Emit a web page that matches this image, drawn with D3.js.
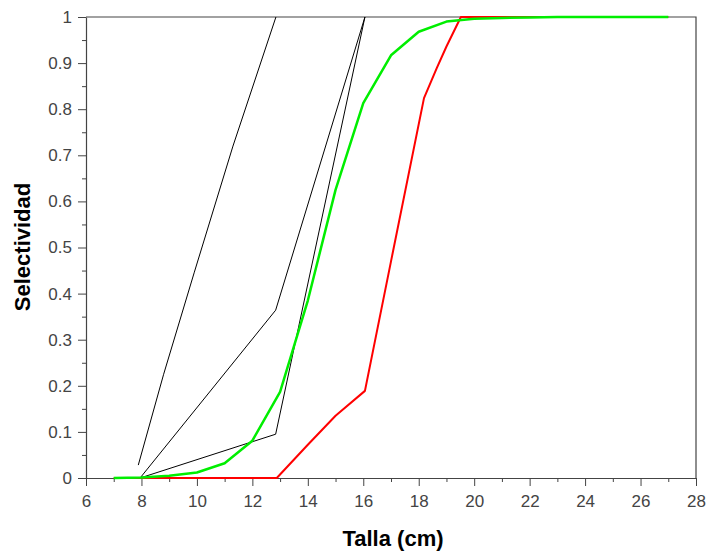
<!DOCTYPE html>
<html>
<head>
<meta charset="utf-8">
<script src="https://cdn.jsdelivr.net/npm/d3@7"></script>
<style>
  html, body { margin: 0; padding: 0; background: #fff; }
  svg { display: block; }
  .tick text { font-family: "Liberation Sans", Arial, sans-serif; fill: #444; }
</style>
</head>
<body>
<svg id="chart" width="708" height="552"></svg>
<script>
// Selectivity curves by length (Talla, cm)
const tallaTicks = [6, 8, 10, 12, 14, 16, 18, 20, 22, 24, 26, 28];
const selTicks = [0, 0.1, 0.2, 0.3, 0.4, 0.5, 0.6, 0.7, 0.8, 0.9, 1];

// thin black reference curves
const blackA_x = [7.886, 8.8, 9.9, 11.3, 12.85];
const blackA_y = [0.028, 0.225, 0.445, 0.72, 1.0];
const blackB_x = [7.95, 12.84, 16.06];
const blackB_y = [0.0, 0.364, 1.0];
const blackC_x = [7.95, 12.84, 16.06];
const blackC_y = [0.0, 0.095, 1.0];

// red curve
const red_x = [7, 8, 9, 10, 11, 12, 12.88, 14, 15, 16.06, 17, 18.19, 18.65, 19, 19.52, 20, 21, 22, 23, 24, 25, 26, 27];
const red_y = [0, 0, 0, 0, 0, 0, 0, 0.072, 0.135, 0.189, 0.47, 0.824, 0.889, 0.936, 1, 1, 1, 1, 1, 1, 1, 1, 1];

// green curve
const green_x = [7, 8, 9, 10, 11, 12, 13, 14, 15, 16, 17, 18, 19, 20, 21, 22, 23, 24, 25, 26, 27];
const green_y = [0, 0.001, 0.005, 0.012, 0.032, 0.081, 0.187, 0.385, 0.625, 0.813, 0.917, 0.968, 0.99, 0.996, 0.998, 0.999, 1, 1, 1, 1, 1];

const svg = d3.select("#chart");
const mLeft = 86, mRight = 696, mTop = 17, mBottom = 478;

const x = d3.scaleLinear().domain([6, 28]).range([mLeft, mRight]);
const y = d3.scaleLinear().domain([0, 1]).range([mBottom, mTop]);

// frame (top and right edges)
svg.append("path")
  .attr("d", `M${mLeft},${mTop}H${mRight}V${mBottom}`)
  .attr("fill", "none").attr("stroke", "#444").attr("stroke-width", 1.2);

// minor ticks
const xMinor = d3.range(7, 28, 2);
const yMinor = d3.range(0.05, 1, 0.1);

const xAxisG = svg.append("g").attr("transform", `translate(0,${mBottom})`);
xAxisG.append("g")
  .call(d3.axisBottom(x).tickValues(xMinor).tickSize(4).tickFormat(""))
  .call(g => g.select(".domain").remove())
  .call(g => g.selectAll("line").attr("stroke", "#444"));
xAxisG.append("g")
  .call(d3.axisBottom(x).tickValues(tallaTicks).tickSize(8).tickSizeOuter(0).tickPadding(9).tickFormat(d3.format("d")))
  .call(g => g.select(".domain").attr("stroke", "#444").attr("stroke-width", 1.2))
  .call(g => g.selectAll("line").attr("stroke", "#444"))
  .call(g => g.selectAll("text").style("font-size", "17px"));

const yAxisG = svg.append("g").attr("transform", `translate(${mLeft},0)`);
yAxisG.append("g")
  .call(d3.axisLeft(y).tickValues(yMinor).tickSize(4).tickFormat(""))
  .call(g => g.select(".domain").remove())
  .call(g => g.selectAll("line").attr("stroke", "#444"));
yAxisG.append("g")
  .call(d3.axisLeft(y).tickValues(selTicks).tickSize(8).tickSizeOuter(0).tickPadding(6)
    .tickFormat(d => d === 0 || d === 1 ? d3.format("d")(d) : d3.format(".1f")(d)))
  .call(g => g.select(".domain").attr("stroke", "#444").attr("stroke-width", 1.2))
  .call(g => g.selectAll("line").attr("stroke", "#444"))
  .call(g => g.selectAll("text").style("font-size", "17px"));

const line = d3.line().x(d => x(d[0])).y(d => y(d[1]));
const pairs = (xs, ys) => xs.map((v, i) => [v, ys[i]]);

const series = [
  { xs: blackA_x, ys: blackA_y, color: "#000", w: 1 },
  { xs: blackB_x, ys: blackB_y, color: "#000", w: 1 },
  { xs: blackC_x, ys: blackC_y, color: "#000", w: 1 },
  { xs: red_x, ys: red_y, color: "#ff0000", w: 2 },
  { xs: green_x, ys: green_y, color: "#00ee00", w: 2.5 }
];

svg.append("g").selectAll("path")
  .data(series)
  .join("path")
  .attr("d", s => line(pairs(s.xs, s.ys)))
  .attr("fill", "none")
  .attr("stroke", s => s.color)
  .attr("stroke-width", s => s.w)
  .attr("stroke-linejoin", "round");

// axis titles
svg.append("text")
  .attr("x", 393).attr("y", 546)
  .attr("text-anchor", "middle")
  .style("font-family", "'Liberation Sans', Arial, sans-serif")
  .style("font-weight", "bold").style("font-size", "22px")
  .text("Talla (cm)");

svg.append("text")
  .attr("transform", "translate(30,247) rotate(-90)")
  .attr("text-anchor", "middle")
  .style("font-family", "'Liberation Sans', Arial, sans-serif")
  .style("font-weight", "bold").style("font-size", "22px")
  .text("Selectividad");
</script>
</body>
</html>
